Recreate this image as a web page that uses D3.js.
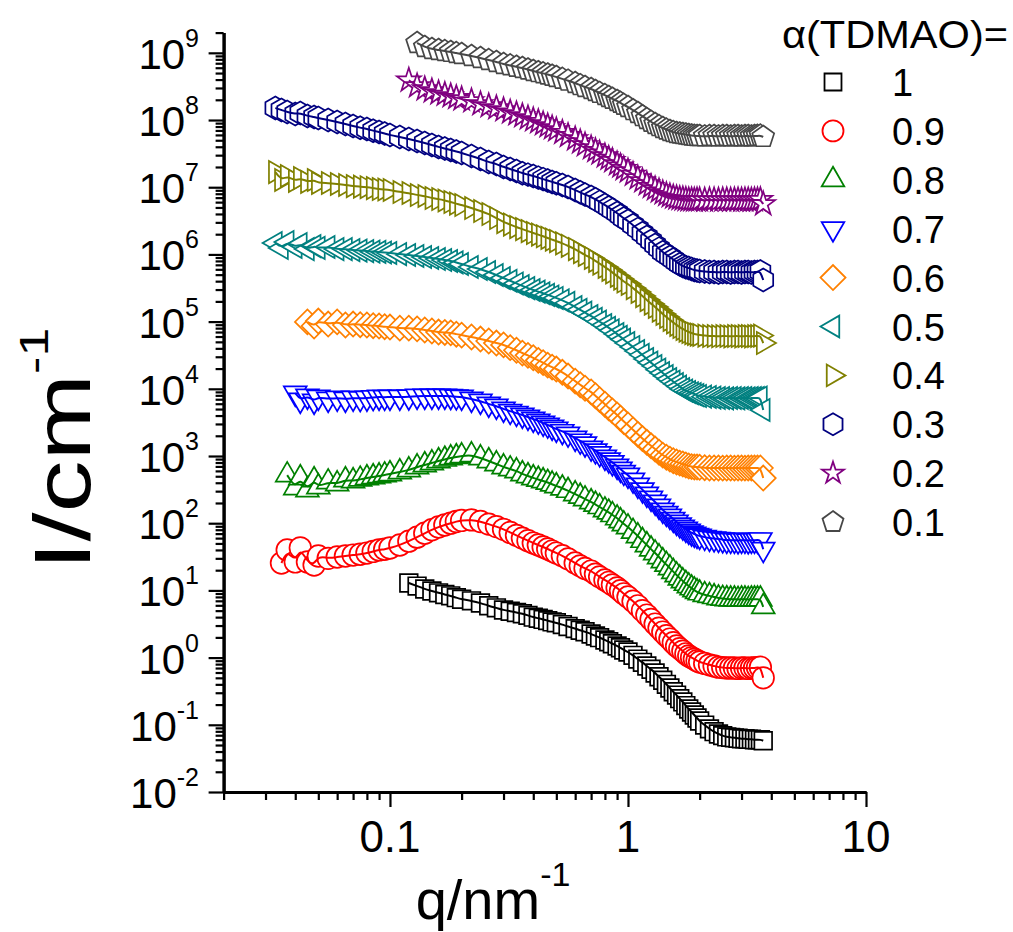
<!DOCTYPE html>
<html><head><meta charset="utf-8">
<script src="https://cdn.jsdelivr.net/npm/d3@7"></script>
<style>
body{margin:0;background:#fff;}
svg{display:block;font-family:Arial,"Liberation Sans",Helvetica,sans-serif;}
</style></head><body>
<svg id="chart" width="1013" height="932"></svg>
<script>
// shared q grid (nm^-1)
const qGrid = [0.033,0.035,0.037,0.04,0.042,0.045,0.048,0.05,0.055,0.06,0.065,0.07,0.075,0.08,0.085,0.09,0.095,
  0.10,0.11,0.12,0.13,0.14,0.15,0.16,0.17,0.18,0.19,
  0.20,0.22,0.24,0.26,0.28,0.30,0.32,0.34,0.36,0.38,0.40,0.42,0.44,0.46,0.48,
  0.50,0.53,0.56,0.60,0.63,0.66,0.70,0.73,0.76,0.80,0.83,0.86,0.90,0.93,0.96,
  1.00,1.05,1.10,1.15,1.20,1.25,1.30,1.35,1.40,1.45,1.50,1.55,1.60,1.65,1.70,1.75,1.80,1.85,1.90,1.95,
  2.0,2.1,2.2,2.3,2.4,2.5,2.6,2.7,2.8,2.9,3.0,3.1,3.2,3.3,3.4,3.5,3.6,3.7];

const seriesLabels = ["1","0.9","0.8","0.7","0.6","0.5","0.4","0.3","0.2","0.1"];
// index in qGrid where each series starts
const seriesStart = [19,1,2,3,5,0,0,0,19,20];

const I_10 = [12.9,11.6,10.5,9.8,9.2,8.7,8.3,7.8,7.4,7.0,6.5,5.9,5.5,5.1,4.9,4.7,4.5,4.25,4.0,3.85,3.7,3.55,3.4,3.3,3.1,2.9,2.7,2.55,2.42,2.25,2.1,1.98,1.83,1.72,1.61,1.49,1.40,1.30,1.21,1.08,0.95,0.85,0.75,0.67,0.59,0.52,0.46,0.40,0.353,0.31,0.277,0.245,0.219,0.193,0.172,0.155,0.14,0.126,0.114,0.099,0.087,0.079,0.073,0.069,0.066,0.065,0.064,0.063,0.062,0.062,0.061,0.061,0.060,0.060,0.060,0.058];
const I_09 = [25.6,40,26.5,43,26.5,23.9,32.5,30,31.4,32.5,33.6,34.5,36,38,40,41,42.8,47.4,54,62,71,80,88,94,100,106,110,112,106,97,89,81,73,66,60,55,50.7,47.5,44.3,41.3,38.5,36,32.8,29.5,25.6,23.2,21.2,19.4,17.5,15.9,14.3,13.2,12.1,10.9,9.9,8.9,8.0,6.9,5.9,5.0,4.3,3.7,3.16,2.75,2.4,2.12,1.89,1.67,1.49,1.36,1.25,1.14,1.06,1.0,0.95,0.9,0.86,0.82,0.78,0.75,0.72,0.71,0.70,0.70,0.70,0.69,0.70,0.70,0.69,0.70,0.70,0.71,0.72,0.50];
const I_08 = [520,334,471,312,440,346,410,383,440,425,450,471,488,504,520,540,578,619,686,735,787,843,890,934,970,1000,1035,934,843,760,686,640,598,540,505,471,448,425,403,380,358,332,305,272,250,229,207,190,175,157,145,133,119,108,97,87.7,75,64.5,55,47.4,41,36,31.4,27.4,24.2,21.5,19,16.9,15.2,13.8,12.6,11.6,10.8,10.1,9.5,9.1,8.6,8.3,8.0,7.7,7.55,7.45,7.4,7.4,7.3,7.4,7.4,7.3,7.4,7.4,7.4,7.4,5.7];
const I_07 = [8660,6810,7810,6580,7550,7050,7300,7050,7300,7200,7300,7450,7550,7500,7550,7550,7600,7810,7810,7810,7810,7810,7750,7650,7550,7050,6580,5940,5540,5000,4650,4350,4070,3800,3550,3330,3100,2900,2700,2520,2330,2130,1850,1680,1520,1320,1200,1090,966,880,800,710,640,575,521,440,370,315,272,237,207,180,157,141,128,115,104,95,88,82,76.5,72,69,66.5,64.5,62,60,59,58,57,56,56,56,55,56,56,55,56,56,56,57,41];
const I_06 = [9.9e4,8.6e4,1.02e5,9.2e4,9.9e4,8.9e4,9.2e4,9.0e4,8.9e4,8.7e4,8.6e4,8.4e4,8.3e4,8.0e4,8.0e4,7.8e4,7.5e4,7.25e4,7.0e4,6.9e4,6.8e4,6.5e4,6.3e4,5.9e4,5.5e4,5.15e4,4.8e4,4.5e4,4.1e4,3.75e4,3.4e4,3.15e4,2.9e4,2.65e4,2.45e4,2.25e4,2.1e4,1.97e4,1.76e4,1.55e4,1.3e4,1.15e4,1.02e4,9.0e3,7.9e3,6.9e3,5.9e3,5.2e3,4.7e3,4.1e3,3.65e3,3.25e3,2.9e3,2.45e3,2.1e3,1.82e3,1.6e3,1.42e3,1.27e3,1.14e3,1.03e3,960,900,850,814,785,760,735,710,695,686,686,680,670,663,663,663,660,663,663,660,663,663,660,663,663,663,665,663,470];
const I_05 = [1.48e6,1.25e6,1.53e6,1.29e6,1.43e6,1.2e6,1.33e6,1.25e6,1.29e6,1.2e6,1.2e6,1.16e6,1.14e6,1.12e6,1.1e6,1.09e6,1.07e6,1.05e6,1.01e6,9.8e5,9.47e5,9.15e5,8.84e5,8.54e5,8.25e5,7.98e5,7.6e5,7.2e5,6.5e5,6.06e5,5.47e5,4.94e5,4.45e5,4.05e5,3.7e5,3.39e5,3.15e5,2.95e5,2.8e5,2.64e5,2.5e5,2.37e5,2.25e5,2.07e5,1.9e5,1.65e5,1.5e5,1.36e5,1.21e5,1.1e5,1.0e5,8.9e4,8.1e4,7.4e4,6.54e4,5.95e4,5.4e4,4.8e4,4.2e4,3.65e4,3.2e4,2.78e4,2.45e4,2.18e4,1.93e4,1.72e4,1.55e4,1.4e4,1.28e4,1.18e4,1.08e4,9.93e3,9.4e3,8.96e3,8.6e3,8.37e3,8.05e3,7.8e3,7.65e3,7.55e3,7.4e3,7.3e3,7.3e3,7.2e3,7.3e3,7.3e3,7.2e3,7.3e3,7.3e3,7.2e3,7.3e3,7.3e3,7.3e3,7.4e3,4.84e3];
const I_04 = [1.68e7,1.28e7,1.47e7,1.24e7,1.37e7,1.2e7,1.28e7,1.155e7,1.155e7,1.116e7,1.08e7,1.04e7,1.02e7,1.0e7,9.7e6,9.4e6,9.25e6,9.09e6,8.48e6,8.2e6,7.65e6,7.4e6,6.9e6,6.67e6,6.35e6,6.02e6,5.7e6,5.43e6,4.9e6,4.42e6,3.99e6,3.48e6,3.03e6,2.78e6,2.55e6,2.38e6,2.22e6,2.08e6,1.97e6,1.86e6,1.76e6,1.66e6,1.58e6,1.46e6,1.34e6,1.2e6,1.08e6,9.8e5,8.84e5,8.0e5,7.3e5,6.5e5,5.9e5,5.4e5,4.77e5,4.35e5,3.95e5,3.63e5,3.15e5,2.76e5,2.4e5,2.09e5,1.85e5,1.65e5,1.46e5,1.3e5,1.17e5,1.06e5,9.7e4,8.9e4,8.3e4,7.76e4,7.35e4,7.0e4,6.75e4,6.54e4,6.4e4,6.32e4,6.2e4,6.1e4,6.1e4,6.05e4,6.1e4,6.1e4,6.0e4,6.1e4,6.1e4,6.0e4,6.1e4,6.1e4,6.0e4,6.1e4,6.1e4,6.2e4,4.8e4];
const I_03 = [1.51e8,1.41e8,1.32e8,1.23e8,1.27e8,1.15e8,1.11e8,1.07e8,1.0e8,9.34e7,8.72e7,8.14e7,7.7e7,7.35e7,6.95e7,6.63e7,6.3e7,5.98e7,5.58e7,5.21e7,4.87e7,4.55e7,4.25e7,3.97e7,3.77e7,3.58e7,3.4e7,3.23e7,2.91e7,2.63e7,2.37e7,2.22e7,2.0e7,1.87e7,1.74e7,1.62e7,1.54e7,1.47e7,1.39e7,1.32e7,1.26e7,1.2e7,1.15e7,1.08e7,1.01e7,9.09e6,8.4e6,7.8e6,7.15e6,6.6e6,6.05e6,5.43e6,5.0e6,4.6e6,4.13e6,3.75e6,3.43e6,3.14e6,2.72e6,2.38e6,2.07e6,1.81e6,1.58e6,1.38e6,1.22e6,1.08e6,9.9e5,9.15e5,8.4e5,7.7e5,7.15e5,6.72e5,6.45e5,6.27e5,6.05e5,5.86e5,5.75e5,5.66e5,5.55e5,5.47e5,5.47e5,5.4e5,5.47e5,5.47e5,5.4e5,5.47e5,5.47e5,5.4e5,5.47e5,5.47e5,5.4e5,5.47e5,5.5e5,5.55e5,4.16e5];
const I_02 = [3.9e8,3.2e8,2.89e8,2.7e8,2.52e8,2.4e8,2.28e8,2.15e8,2.05e8,1.92e8,1.73e8,1.62e8,1.51e8,1.41e8,1.31e8,1.23e8,1.15e8,1.07e8,1.0e8,9.4e7,8.75e7,8.15e7,7.6e7,7.1e7,6.5e7,5.85e7,5.21e7,4.7e7,4.25e7,3.83e7,3.5e7,3.2e7,2.91e7,2.68e7,2.47e7,2.22e7,2.05e7,1.88e7,1.74e7,1.55e7,1.37e7,1.24e7,1.12e7,1.02e7,9.4e6,8.75e6,8.2e6,7.75e6,7.4e6,7.1e6,6.9e6,6.75e6,6.67e6,6.55e6,6.45e6,6.45e6,6.4e6,6.45e6,6.45e6,6.4e6,6.45e6,6.45e6,6.4e6,6.45e6,6.45e6,6.4e6,6.45e6,6.45e6,6.4e6,6.45e6,6.45e6,6.4e6,6.45e6,6.45e6,6.5e6,5.62e6];
const I_01 = [1.4e9,1.22e9,1.14e9,1.1e9,1.06e9,1.03e9,9.9e8,9.6e8,8.96e8,8.37e8,7.8e8,7.3e8,6.81e8,6.5e8,6.2e8,5.94e8,5.65e8,5.36e8,5.15e8,4.95e8,4.75e8,4.55e8,4.36e8,4.1e8,3.85e8,3.55e8,3.3e8,3.1e8,2.89e8,2.7e8,2.53e8,2.35e8,2.2e8,2.07e8,1.92e8,1.8e8,1.68e8,1.56e8,1.4e8,1.27e8,1.14e8,1.03e8,9.4e7,8.72e7,8.1e7,7.6e7,7.2e7,6.86e7,6.6e7,6.41e7,6.3e7,6.19e7,6.08e7,5.98e7,5.88e7,5.8e7,5.78e7,5.78e7,5.7e7,5.78e7,5.78e7,5.7e7,5.78e7,5.78e7,5.7e7,5.78e7,5.78e7,5.7e7,5.78e7,5.78e7,5.7e7,5.78e7,5.8e7,5.85e7,5.6e7];
const seriesValues = [I_10,I_09,I_08,I_07,I_06,I_05,I_04,I_03,I_02,I_01];

const xMajor = [0.1,1,10];
const xTickLabels = ["0.1","1","10"];
const yExponents = [-2,-1,0,1,2,3,4,5,6,7,8,9];

// ---------- styles ----------
const colors = ["#000000","#ff0000","#008000","#0000ff","#ff8000","#008080","#808000","#000080","#800080","#474747"];

function poly(n, rot){
  return {draw(ctx, size){
    const r = Math.sqrt(size);
    for(let i=0;i<n;i++){
      const a = rot + 2*Math.PI*i/n;
      const px = r*Math.cos(a), py = r*Math.sin(a);
      if(i===0) ctx.moveTo(px,py); else ctx.lineTo(px,py);
    }
    ctx.closePath();
  }};
}
const circleType = {draw(ctx,size){const r=Math.sqrt(size);ctx.moveTo(r,0);ctx.arc(0,0,r,0,2*Math.PI);ctx.closePath();}};
const starType = {draw(ctx,size){
  const R=Math.sqrt(size), ri=R*0.382;
  for(let i=0;i<10;i++){
    const a=-Math.PI/2+i*Math.PI/5, rr=(i%2)?ri:R;
    const px=rr*Math.cos(a), py=rr*Math.sin(a);
    if(i===0) ctx.moveTo(px,py); else ctx.lineTo(px,py);
  }
  ctx.closePath();
}};
const markerTypes = [poly(4,Math.PI/4), circleType, poly(3,-Math.PI/2), poly(3,Math.PI/2), poly(4,0),
                     poly(3,Math.PI), poly(3,0), poly(6,-Math.PI/2), starType, poly(5,-Math.PI/2)];
const markerR = [12.5, 10.8, 13.2, 13.2, 12.5, 12.8, 12.8, 11.5, 12.5, 11.5];
const legendR = [12, 10.5, 13, 13, 12.5, 12.5, 12.5, 11, 11.5, 11];

// ---------- scales ----------
const svg = d3.select("#chart");
const x = d3.scaleLog().domain([0.02, 10]).range([223.6, 866]);
const y = d3.scaleLog().domain([0.01, 2e9]).range([792, 32.6]);

// ---------- data ----------
const series = seriesValues.map((vals, s) => ({
  label: seriesLabels[s],
  color: colors[s],
  type: markerTypes[s],
  r: markerR[s],
  points: vals.map((v,i)=>({q: qGrid[seriesStart[s]+i], I: v})).filter(d => d.q !== undefined)
}));

const plot = svg.append("g");
const line = d3.line().x(d=>x(d.q)).y(d=>y(d.I)).curve(d3.curveBasis);

series.forEach(s => {
  const g = plot.append("g");
  g.selectAll("path.m").data(s.points).join("path")
    .attr("class","m")
    .attr("transform", d => `translate(${x(d.q)},${y(d.I)})`)
    .attr("d", d3.symbol().type(s.type).size(s.r*s.r))
    .attr("fill","#fff").attr("stroke", s.color).attr("stroke-width",1.7);
  g.append("path").datum(s.points).attr("d", line)
    .attr("fill","none").attr("stroke", s.color).attr("stroke-width",2);
});

// ---------- axes ----------
const yMinor = [];
yExponents.forEach(e => { for(let k=2;k<=9;k++){ const v=k*Math.pow(10,e); if(v<=2e9) yMinor.push(v);} });
const yMajor = yExponents.map(e => Math.pow(10,e));
const xMinor = [];
[-2,-1,0].forEach(e => { for(let k=2;k<=9;k++) xMinor.push(k*Math.pow(10,e)); });

function styleAxis(g, w){
  g.selectAll("line").attr("stroke","#000").attr("stroke-width",2.2);
  g.select(".domain").attr("stroke","#000").attr("stroke-width",w);
  g.selectAll("text").remove();
}
svg.append("g").attr("transform","translate(223.6,0)")
  .call(d3.axisLeft(y).tickValues(yMinor).tickSize(8).tickSizeOuter(0).tickFormat(""))
  .call(g=>styleAxis(g,3));
svg.append("g").attr("transform","translate(223.6,0)")
  .call(d3.axisLeft(y).tickValues(yMajor).tickSize(15).tickSizeOuter(0).tickFormat(""))
  .call(g=>styleAxis(g,3));
svg.append("g").attr("transform","translate(0,792)")
  .call(d3.axisBottom(x).tickValues(xMinor).tickSize(8).tickSizeOuter(0).tickFormat(""))
  .call(g=>styleAxis(g,3));
svg.append("g").attr("transform","translate(0,792)")
  .call(d3.axisBottom(x).tickValues(xMajor).tickSize(15).tickSizeOuter(0).tickFormat(""))
  .call(g=>styleAxis(g,3));

// y tick labels
const yl = svg.append("g");
yExponents.forEach(e => {
  const t = yl.append("text").attr("x",199).attr("y", y(Math.pow(10,e))+16)
    .attr("text-anchor","end").attr("font-size",42).attr("fill","#000");
  t.append("tspan").text("10");
  t.append("tspan").attr("dy",-22).attr("font-size",25).text(String(e));
});
// x tick labels
svg.append("g").selectAll("text").data(xMajor).join("text")
  .attr("x", d=>x(d)).attr("y",852).attr("text-anchor","middle")
  .attr("font-size",44).attr("fill","#000")
  .text((d,i)=>xTickLabels[i]);

// axis titles
const xt = svg.append("text").attr("x",493).attr("y",919).attr("text-anchor","middle")
  .attr("font-size",56).attr("fill","#000");
xt.append("tspan").text("q/nm");
xt.append("tspan").attr("dy",-33).attr("font-size",34).text("-1");

const yt = svg.append("text").attr("transform","translate(90,449) rotate(-90) scale(1.3,1)")
  .attr("text-anchor","middle").attr("font-size",80).attr("fill","#000");
yt.append("tspan").text("I/cm");
yt.append("tspan").attr("dy",-42).attr("font-size",40).text("-1");

// ---------- legend ----------
const lg = svg.append("g");
lg.append("text").attr("x",782).attr("y",48).attr("font-size",38).attr("fill","#000")
  .attr("textLength",226).attr("lengthAdjust","spacingAndGlyphs").text("α(TDMAO)=");
series.forEach((s,i) => {
  const cy = 82 + i*48.9;
  lg.append("path").attr("transform",`translate(833,${cy})`)
    .attr("d", d3.symbol().type(s.type).size(legendR[i]*legendR[i]))
    .attr("fill","#fff").attr("stroke", s.color).attr("stroke-width",1.8);
  lg.append("text").attr("x",892).attr("y",cy+14).attr("font-size",38).attr("fill","#000").text(s.label);
});
</script>
</body></html>
